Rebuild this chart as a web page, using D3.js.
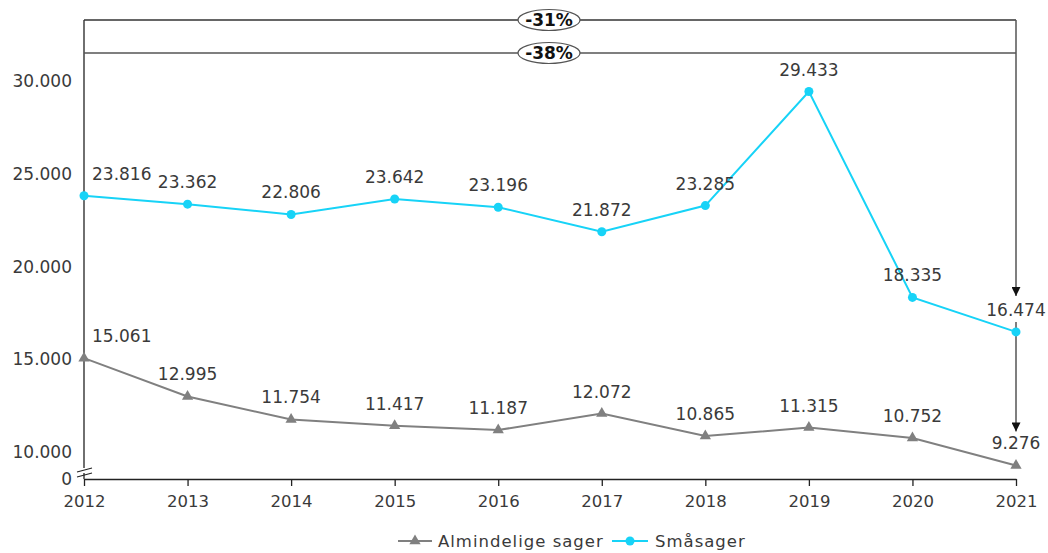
<!DOCTYPE html>
<html><head><meta charset="utf-8">
<script src="https://cdn.jsdelivr.net/npm/d3@7"></script>
<style>
body{margin:0;background:#fff;}
svg text{font-family:"DejaVu Sans",sans-serif;}
</style></head>
<body><svg id="c" width="1048" height="553"></svg>
<script>
const years = ["2012","2013","2014","2015","2016","2017","2018","2019","2020","2021"];
const almindelige = [15061,12995,11754,11417,11187,12072,10865,11315,10752,9276];
const smaasager = [23816,23362,22806,23642,23196,21872,23285,29433,18335,16474];
const yTicks = [10000,15000,20000,25000,30000];
const seriesNames = ["Almindelige sager","Småsager"];
const changeLabels = ["-31%","-38%"];

const svg = d3.select("#c");
const L=84, R=1016, T=20, B=479;
const x = d3.scalePoint().domain(years).range([L,R]).padding(0);
const y = d3.scaleLinear().domain([8545,33290]).range([B,T]);
const fmt = v => d3.format(",")(v).replace(/,/g,".");
const txt = "#3a3a3a", gray="#808080", cyan="#17d3f7";

// y labels
svg.append("g").selectAll("text").data(yTicks).join("text")
  .attr("x",72).attr("y",d=>y(d)+6).attr("text-anchor","end")
  .attr("font-size",17).attr("fill",txt).text(d=>fmt(d));
svg.append("text").attr("x",72).attr("y",B+6).attr("text-anchor","end")
  .attr("font-size",17).attr("fill",txt).text("0");

// x axis
const xa = svg.append("g").attr("transform",`translate(0,${B})`)
  .call(d3.axisBottom(x).tickSize(7).tickSizeOuter(0).tickPadding(9));
xa.select(".domain").attr("stroke","#222").attr("stroke-width",1.3);
xa.selectAll(".tick line").attr("stroke","#222").attr("stroke-width",1.3);
xa.selectAll(".tick text").attr("font-size",16.5).attr("fill",txt).attr("font-family","DejaVu Sans");

// y axis line
svg.append("line").attr("x1",L).attr("x2",L).attr("y1",y.range()[1]).attr("y2",B)
  .attr("stroke","#222").attr("stroke-width",1.3);
// break mark
svg.append("rect").attr("x",L-2).attr("y",B-11).attr("width",4).attr("height",5).attr("fill","#fff");
[0,5].forEach(o=>{
  svg.append("line").attr("x1",L-7).attr("x2",L+8).attr("y1",B-2-o).attr("y2",B-6-o)
   .attr("stroke","#222").attr("stroke-width",1.2);
});

// defs arrow
svg.append("defs").append("marker").attr("id","arr").attr("viewBox","0 0 10 10")
  .attr("refX",10).attr("refY",5).attr("markerWidth",9).attr("markerHeight",9)
  .attr("markerUnits","userSpaceOnUse").attr("orient","auto")
  .append("path").attr("d","M0,0L10,5L0,10Z").attr("fill","#111");

// brackets
const last = years.length-1;
const xr = x(years[last]);
const b1 = T, b2 = T+33;
svg.append("line").attr("x1",L).attr("x2",xr).attr("y1",b1).attr("y2",b1).attr("stroke","#333").attr("stroke-width",1.5);
svg.append("line").attr("x1",L).attr("x2",xr).attr("y1",b2).attr("y2",b2).attr("stroke","#555").attr("stroke-width",1.5);
svg.append("line").attr("x1",xr).attr("x2",xr).attr("y1",b1).attr("y2",y(smaasager[last])-36)
  .attr("stroke","#555").attr("stroke-width",1.5).attr("marker-end","url(#arr)");
svg.append("line").attr("x1",xr).attr("x2",xr).attr("y1",y(smaasager[last])-10).attr("y2",y(almindelige[last])-34)
  .attr("stroke","#555").attr("stroke-width",1.5).attr("marker-end","url(#arr)");
[b1,b2].forEach((by,i)=>{
  const cx=(L+xr)/2-1;
  svg.append("ellipse").attr("cx",cx).attr("cy",by).attr("rx",31).attr("ry",10.5)
    .attr("fill","#fff").attr("stroke","#555").attr("stroke-width",1.2);
  svg.append("text").attr("x",cx).attr("y",by+6).attr("text-anchor","middle")
    .attr("font-size",17).attr("font-weight","bold").attr("fill","#111").text(changeLabels[i]);
});

// lines
const line = d3.line().x((d,i)=>x(years[i])).y(d=>y(d));
svg.append("path").datum(almindelige).attr("d",line).attr("fill","none").attr("stroke",gray).attr("stroke-width",2);
svg.append("path").datum(smaasager).attr("d",line).attr("fill","none").attr("stroke",cyan).attr("stroke-width",2);
const tri = d3.symbol().type(d3.symbolTriangle).size(55);
svg.append("g").selectAll("path").data(almindelige).join("path")
  .attr("d",tri).attr("fill",gray).attr("transform",(d,i)=>`translate(${x(years[i])},${y(d)})`);
svg.append("g").selectAll("circle").data(smaasager).join("circle")
  .attr("cx",(d,i)=>x(years[i])).attr("cy",d=>y(d)).attr("r",4.5).attr("fill",cyan);

// data labels
function labels(arr){
  svg.append("g").selectAll("text").data(arr).join("text")
   .attr("x",(d,i)=>i===0?x(years[i])+8:x(years[i]))
   .attr("y",d=>y(d)-16)
   .attr("text-anchor",(d,i)=>i===0?"start":"middle")
   .attr("font-size",17).attr("fill",txt).text(d=>fmt(d));
}
labels(almindelige); labels(smaasager);

// legend
const lg = svg.append("g").attr("transform","translate(0,541)");
lg.append("line").attr("x1",398).attr("x2",432).attr("stroke",gray).attr("stroke-width",2);
lg.append("path").attr("d",tri).attr("fill",gray).attr("transform","translate(415,0)");
lg.append("text").attr("x",438).attr("y",6).attr("font-size",16.5).attr("letter-spacing",1).attr("fill",txt).text(seriesNames[0]);
lg.append("line").attr("x1",612).attr("x2",648).attr("stroke",cyan).attr("stroke-width",2);
lg.append("circle").attr("cx",630).attr("r",4.5).attr("fill",cyan);
lg.append("text").attr("x",655).attr("y",6).attr("font-size",16.5).attr("letter-spacing",1).attr("fill",txt).text(seriesNames[1]);
</script></body></html>
